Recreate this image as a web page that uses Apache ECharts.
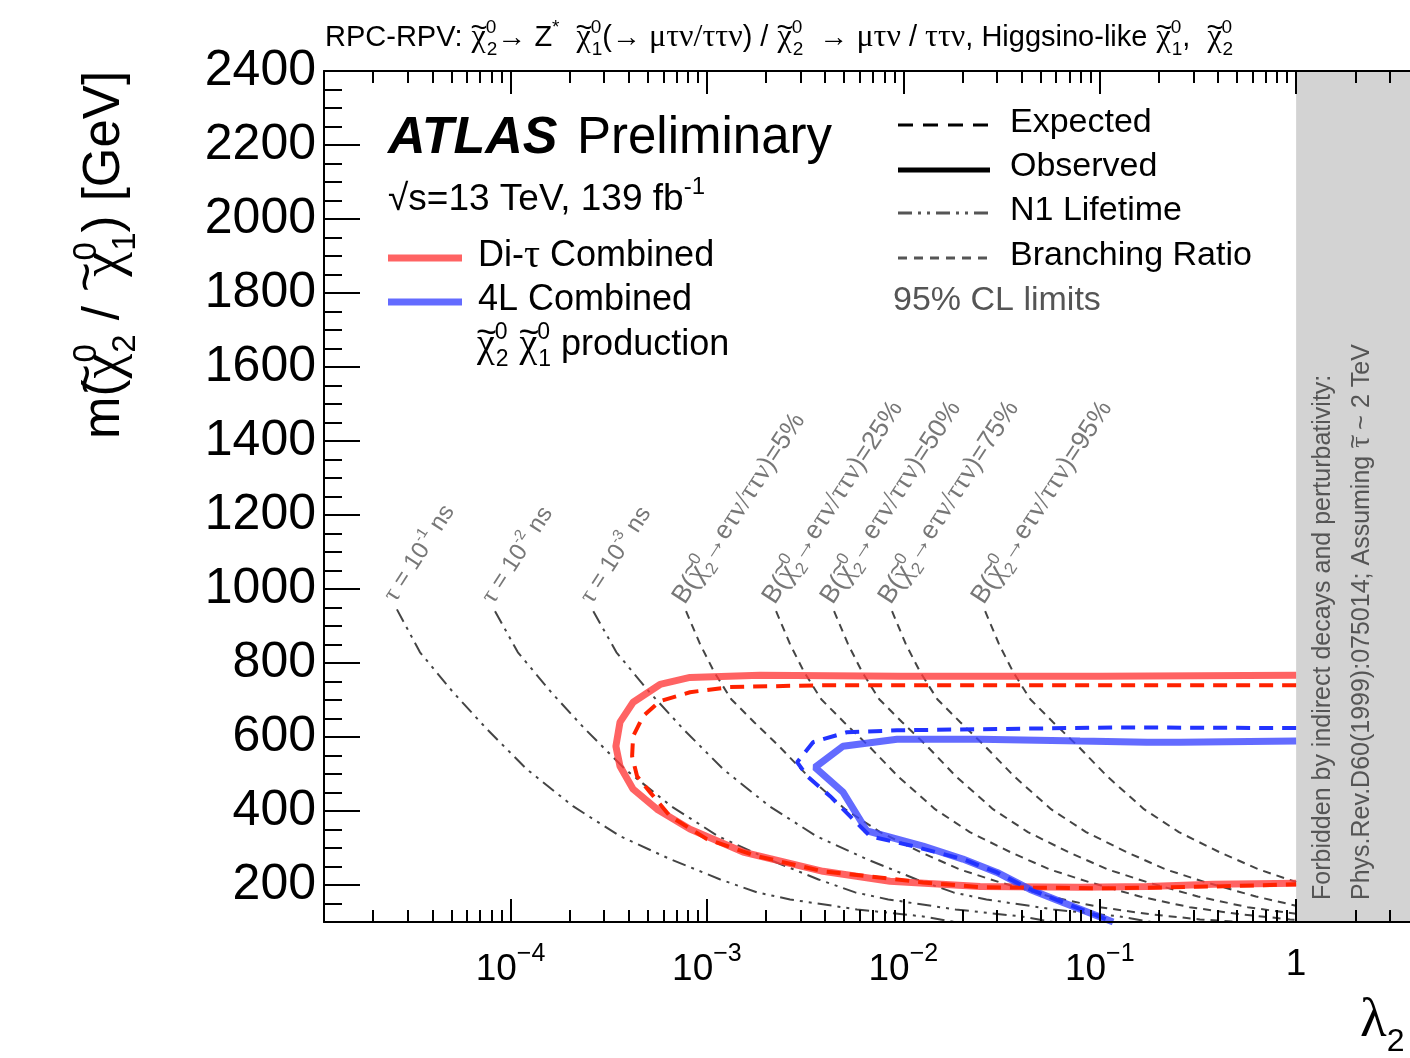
<!DOCTYPE html>
<html>
<head>
<meta charset="utf-8">
<script src="https://cdn.jsdelivr.net/npm/echarts@6/dist/echarts.min.js"></script>
<style>
  html, body { margin: 0; padding: 0; background: #ffffff; }
  #chart { width: 1410px; height: 1058px; }
</style>
</head>
<body>
<div id="chart"></div>
<script>
// ---- axis ranges and ticks ----
const LAMBDA_MIN = 1.123e-5;
const LAMBDA_MAX = 3.8;
const MASS_MIN = 100;
const MASS_MAX = 2400;
const FORBIDDEN_FROM = 1;          // lambda above which the region is excluded

const xMajorTicks = [1e-4, 1e-3, 1e-2, 1e-1, 1];
const xMinorTicks = [];
[1e-5, 1e-4, 1e-3, 1e-2, 1e-1, 1].forEach(function (d) {
  [2, 3, 4, 5, 6, 7, 8, 9].forEach(function (k) { xMinorTicks.push(k * d); });
});
const yMajorTicks = [200, 400, 600, 800, 1000, 1200, 1400, 1600, 1800, 2000, 2200, 2400];
const yMinorTicks = [150, 250, 300, 350, 450, 500, 550, 650, 700, 750, 850, 900, 950,
  1050, 1100, 1150, 1250, 1300, 1350, 1450, 1500, 1550, 1650, 1700, 1750, 1850, 1900, 1950,
  2050, 2100, 2150, 2250, 2300, 2350];

// ---- 95% CL exclusion contours: [lambda, mass in GeV] ----
const ditauObserved = [[1.0, 767], [0.100, 764], [9.62e-3, 764], [1.86e-3, 767], [8.20e-4, 761],
  [5.77e-4, 742], [4.21e-4, 694], [3.61e-4, 640], [3.44e-4, 575], [3.61e-4, 521], [4.21e-4, 459],
  [5.57e-4, 405], [8.20e-4, 351], [1.53e-3, 289], [3.90e-3, 237], [8.56e-3, 210], [2.46e-2, 196],
  [7.94e-2, 194], [0.174, 196], [0.378, 202], [1.0, 205]];
const ditauExpected = [[1.0, 740], [1.49e-2, 740], [3.90e-3, 740], [1.31e-3, 735], [8.20e-4, 721],
  [5.77e-4, 697], [4.73e-4, 656], [4.21e-4, 602], [4.16e-4, 548], [4.41e-4, 494], [5.13e-4, 451],
  [6.49e-4, 386], [1.00e-3, 324], [1.80e-3, 278], [3.90e-3, 237], [1.26e-2, 207], [2.46e-2, 194],
  [0.117, 191], [0.378, 196], [1.0, 202]];
const fourLObserved = [[1.0, 589], [0.256, 586], [0.174, 586], [7.94e-2, 589], [2.46e-2, 594],
  [9.29e-3, 594], [4.93e-3, 575], [3.55e-3, 518], [4.93e-3, 451], [6.53e-3, 346], [1.26e-2, 305],
  [2.01e-2, 270], [3.00e-2, 234], [4.42e-2, 188], [6.50e-2, 153], [0.117, 100]];
const fourLExpected = [[1.0, 624], [0.127, 626], [2.46e-2, 621], [9.29e-3, 618], [5.17e-3, 613],
  [3.47e-3, 586], [2.88e-3, 532], [3.24e-3, 494], [4.24e-3, 440], [5.35e-3, 386], [6.77e-3, 332],
  [1.12e-2, 305], [2.01e-2, 270], [3.00e-2, 234], [4.42e-2, 188], [6.50e-2, 153], [0.117, 100]];

// ---- neutralino lifetime contours ----
const lifetime1e1 = [[2.64e-5, 945], [3.46e-5, 829], [5.10e-5, 721], [7.59e-5, 621], [1.21e-4, 513],
  [2.08e-4, 413], [3.61e-4, 332], [6.49e-4, 270], [1.17e-3, 215], [1.80e-3, 180], [2.65e-3, 161],
  [5.81e-3, 134], [1.26e-2, 115], [1.83e-2, 100]];
const lifetime1e2 = [[8.34e-5, 940], [1.09e-4, 829], [1.61e-4, 721], [2.40e-4, 621], [3.83e-4, 513],
  [6.58e-4, 413], [1.14e-3, 332], [2.05e-3, 270], [3.70e-3, 215], [5.69e-3, 180], [8.38e-3, 161],
  [1.84e-2, 134], [3.98e-2, 115], [5.79e-2, 100]];
const lifetime1e3 = [[2.64e-4, 940], [3.46e-4, 829], [5.10e-4, 721], [7.59e-4, 621], [1.21e-3, 513],
  [2.08e-3, 413], [3.61e-3, 332], [6.49e-3, 270], [1.17e-2, 215], [1.80e-2, 180], [2.65e-2, 161],
  [5.81e-2, 134], [0.126, 115], [0.183, 100]];

// ---- branching-ratio contours ----
const br05 = [[7.83e-4, 940], [9.23e-4, 851], [1.09e-3, 775], [1.33e-3, 702], [1.74e-3, 640],
  [2.36e-3, 572], [3.27e-3, 494], [5.05e-3, 405], [7.61e-3, 343], [1.22e-2, 289], [1.94e-2, 242],
  [3.11e-2, 207], [5.58e-2, 169], [0.100, 140], [0.180, 121], [0.324, 107], [0.518, 100]];
const br25 = [[2.25e-3, 940], [2.65e-3, 851], [3.13e-3, 775], [3.82e-3, 702], [4.99e-3, 640],
  [6.77e-3, 572], [9.38e-3, 494], [1.45e-2, 405], [2.18e-2, 343], [3.50e-2, 289], [5.57e-2, 242],
  [8.93e-2, 207], [0.160, 169], [0.287, 140], [0.517, 121], [0.93, 107], [1.0, 106]];
const br50 = [[4.44e-3, 940], [5.23e-3, 851], [6.18e-3, 775], [7.54e-3, 702], [9.87e-3, 640],
  [1.34e-2, 572], [1.85e-2, 494], [2.86e-2, 405], [4.31e-2, 343], [6.92e-2, 289], [0.110, 242],
  [0.176, 207], [0.316, 169], [0.567, 140], [1.0, 122]];
const br75 = [[8.76e-3, 940], [1.03e-2, 851], [1.22e-2, 775], [1.49e-2, 702], [1.95e-2, 640],
  [2.64e-2, 572], [3.66e-2, 494], [5.65e-2, 405], [8.52e-2, 343], [0.137, 289], [0.217, 242],
  [0.348, 207], [0.624, 169], [1.0, 144]];
const br95 = [[2.61e-2, 940], [3.07e-2, 851], [3.63e-2, 775], [4.43e-2, 702], [5.79e-2, 640],
  [7.86e-2, 572], [0.109, 494], [0.168, 405], [0.253, 343], [0.406, 289], [0.646, 242], [1.0, 208]];

// ---- fonts, colours ----
const SANS = '"Liberation Sans", Arial, Helvetica, sans-serif';
const SERIF = '"Liberation Serif", "DejaVu Serif", serif';
const RED_OBS = 'rgba(255,60,60,0.80)';
const RED_EXP = '#ff2200';
const BLUE_OBS = 'rgba(60,70,255,0.80)';
const BLUE_EXP = '#2233ff';
const GUIDE = '#444444';
const NOTE = '#555555';
const LIFETIME_DASH = [14, 6, 3, 6, 3, 6];
const BR_DASH = [8, 6];
const EXP_DASH = [14, 9];

// rich-text styles: t = text, g = greek, tl = tilde accent (drawn over the next glyph),
// up = superscript, st = superscript stacked over the following subscript, dn = subscript
function richStyles(size, color) {
  const small = Math.round(size * 0.64);
  function s(o) { o.color = color; o.fill = color; return o; }
  return {
    t: s({ fontFamily: SANS, fontSize: size }),
    g: s({ fontFamily: SERIF, fontSize: Math.round(size * 1.1) }),
    tl: s({ fontFamily: SANS, fontSize: Math.round(size * 1.0), width: 1,
      padding: [0, 0, Math.round(size * 0.62), 0] }),
    up: s({ fontFamily: SANS, fontSize: small, padding: [0, 0, Math.round(size * 0.7), 0] }),
    st: s({ fontFamily: SANS, fontSize: small, width: 1, padding: [0, 0, Math.round(size * 0.7), 0] }),
    dn: s({ fontFamily: SANS, fontSize: small, padding: [Math.round(size * 0.8), 0, 0, 0] })
  };
}
function tilde(letter) { return '{tl|~}{g|' + letter + '}'; }
function chi(sub) { return tilde('\u03c7') + '{st|0}{dn|' + sub + '}'; }

const titleText = '{t|RPC-RPV: }' + chi(2) + '{t|\u2192 Z}{up|*}{t|  }' + chi(1) +
  '{t|(\u2192 }{g|\u03bc\u03c4\u03bd/\u03c4\u03c4\u03bd}{t|) / }' + chi(2) +
  '{t|  \u2192 }{g|\u03bc\u03c4\u03bd}{t| / }{g|\u03c4\u03c4\u03bd}{t|, Higgsino-like }' +
  chi(1) + '{t|,  }' + chi(2);

function brLabel(pct) {
  return '{t|B(}' + chi(2) + '{t|\u2192e}{g|\u03c4\u03bd/\u03c4\u03c4\u03bd}{t|)=' + pct + '%}';
}
function lifetimeLabel(exp) {
  return '{g|\u03c4}{t| = 10}{up|-' + exp + '}{t| ns}';
}

const guideLabels = [
  { curve: lifetime1e1, text: lifetimeLabel(1), size: 24 },
  { curve: lifetime1e2, text: lifetimeLabel(2), size: 24 },
  { curve: lifetime1e3, text: lifetimeLabel(3), size: 24 },
  { curve: br05, text: brLabel(5), size: 26 },
  { curve: br25, text: brLabel(25), size: 26 },
  { curve: br50, text: brLabel(50), size: 26 },
  { curve: br75, text: brLabel(75), size: 26 },
  { curve: br95, text: brLabel(95), size: 26 }
];

// ---- axes ----
const frameLine = { show: true, lineStyle: { color: '#000', width: 2 } };
function xAxisDef(position, ticks, len, showLine, showLabels) {
  return {
    type: 'log', logBase: 10, gridIndex: 0, position: position,
    min: LAMBDA_MIN, max: LAMBDA_MAX, z: 10,
    axisLine: showLine ? frameLine : { show: false },
    axisTick: { show: true, inside: true, length: len, customValues: ticks,
      lineStyle: { color: '#000', width: 2 } },
    axisLabel: showLabels ? {
      show: true, customValues: xMajorTicks, margin: 20,
      formatter: function (v) {
        const k = Math.round(Math.log10(v));
        return k === 0 ? '{b|1}' : '{b|10}{e|\u2212' + (-k) + '}';
      },
      rich: {
        b: { fontFamily: SANS, fontSize: 37, color: '#000', lineHeight: 46 },
        e: { fontFamily: SANS, fontSize: 25, color: '#000', padding: [0, 0, 30, 0] }
      }
    } : { show: false },
    splitLine: { show: false }
  };
}
function yAxisDef(ticks, len, showLine, showLabels) {
  return {
    type: 'value', gridIndex: 0, position: 'left', min: MASS_MIN, max: MASS_MAX, z: 10,
    axisLine: showLine ? frameLine : { show: false },
    axisTick: { show: true, inside: true, length: len, customValues: ticks,
      lineStyle: { color: '#000', width: 2 } },
    axisLabel: showLabels ? { show: true, customValues: yMajorTicks, margin: 8,
      formatter: function (v) { return String(v); },
      fontFamily: SANS, fontSize: 50, color: '#000' } : { show: false },
    splitLine: { show: false }
  };
}

function curve(data, color, width, dash, z) {
  return {
    type: 'line', data: data, xAxisIndex: 0, yAxisIndex: 0, symbol: 'none', smooth: false,
    silent: true, z: z, lineStyle: { color: color, width: width, type: dash || 'solid', cap: 'butt' }
  };
}

const series = [
  {
    type: 'line', data: [[FORBIDDEN_FROM, MASS_MIN]], symbol: 'none', silent: true, z: 1,
    lineStyle: { opacity: 0 },
    markArea: {
      silent: true, itemStyle: { color: '#d3d3d3' },
      data: [[{ coord: [FORBIDDEN_FROM, MASS_MIN] }, { coord: [LAMBDA_MAX, MASS_MAX] }]]
    }
  },
  curve(lifetime1e1, GUIDE, 2, LIFETIME_DASH, 2),
  curve(lifetime1e2, GUIDE, 2, LIFETIME_DASH, 2),
  curve(lifetime1e3, GUIDE, 2, LIFETIME_DASH, 2),
  curve(br05, GUIDE, 2, BR_DASH, 2),
  curve(br25, GUIDE, 2, BR_DASH, 2),
  curve(br50, GUIDE, 2, BR_DASH, 2),
  curve(br75, GUIDE, 2, BR_DASH, 2),
  curve(br95, GUIDE, 2, BR_DASH, 2),
  curve(ditauObserved, RED_OBS, 7, 'solid', 3),
  curve(fourLObserved, BLUE_OBS, 7, 'solid', 3),
  curve(ditauExpected, RED_EXP, 4, EXP_DASH, 4),
  curve(fourLExpected, BLUE_EXP, 4, EXP_DASH, 4),
  {
    type: 'scatter', symbolSize: 1, silent: true, z: 5,
    itemStyle: { color: 'rgba(0,0,0,0)' },
    data: guideLabels.map(function (g) {
      return { value: g.curve[0], label: { formatter: g.text, rich: richStyles(g.size, NOTE) } };
    }),
    label: {
      show: true, position: 'right', distance: 0, align: 'left', verticalAlign: 'middle',
      rotate: 57, offset: [4, -12]
    }
  }
];

// ---- annotation text and legend ----
function txt(x, y, text, size, color, extra) {
  const el = { type: 'text', x: x, y: y, silent: true, z: 20,
    style: { text: text, rich: richStyles(size, color), fill: color,
      font: size + 'px ' + SANS, align: 'left', verticalAlign: 'middle' } };
  if (extra) { Object.keys(extra).forEach(function (k) { el[k] = extra[k]; }); }
  return el;
}
function legendLine(x1, x2, y, color, width, dash) {
  return { type: 'line', silent: true, z: 20, shape: { x1: x1, y1: y, x2: x2, y2: y },
    style: { stroke: color, lineWidth: width, lineDash: dash || null } };
}

const graphics = [
  txt(325, 38, titleText, 29, '#000'),
  (function () {
    const el = txt(105, 255, '{t|m(}' + chi(2) + '{t| /  }' + chi(1) + '{t|) [GeV]}', 51, '#000',
      { rotation: Math.PI / 2 });
    el.style.align = 'center';
    return el;
  })(),
  txt(1360, 1022, '{g|\u03bb}{dn|2}', 50, '#000'),
  { type: 'text', x: 388, y: 139, silent: true, z: 20,
    style: { text: 'ATLAS', font: 'italic bold 52px ' + SANS, fill: '#000', align: 'left', verticalAlign: 'middle' } },
  { type: 'text', x: 577, y: 139, silent: true, z: 20,
    style: { text: 'Preliminary', font: '51px ' + SANS, fill: '#000', align: 'left', verticalAlign: 'middle' } },
  txt(388, 200, '{t|\u221as=13 TeV, 139 fb}{up|-1}', 37, '#000'),
  legendLine(388, 462, 258, RED_OBS, 7),
  txt(478, 256, '{t|Di-}{g|\u03c4}{t| Combined}', 36, '#000'),
  legendLine(388, 462, 302, BLUE_OBS, 7),
  txt(478, 300, '{t|4L Combined}', 36, '#000'),
  txt(476, 345, chi(2) + '{t| }' + chi(1) + '{t| production}', 36, '#000'),

  legendLine(898, 990, 125, '#000', 3, [15, 10]),
  txt(1010, 123, '{t|Expected}', 34, '#000'),
  legendLine(898, 990, 170, '#000', 5),
  txt(1010, 167, '{t|Observed}', 34, '#000'),
  legendLine(898, 990, 213, NOTE, 3, [14, 6, 3, 6, 3, 6]),
  txt(1010, 211, '{t|N1 Lifetime}', 34, '#000'),
  legendLine(898, 990, 258, NOTE, 3, [9, 7]),
  txt(1010, 256, '{t|Branching Ratio}', 34, '#000'),
  txt(893, 301, '{t|95% CL limits}', 34, NOTE),

  txt(1323, 900, '{t|Forbidden by indirect decays and perturbativity:}', 25, NOTE,
    { rotation: Math.PI / 2 }),
  txt(1362, 900, '{t|Phys.Rev.D60(1999):075014; Assuming }' + tilde('\u03c4') + '{t| ~ 2 TeV}', 25, NOTE,
    { rotation: Math.PI / 2 })
];

const chart = echarts.init(document.getElementById('chart'), null, { renderer: 'canvas' });
chart.setOption({
  animation: false,
  backgroundColor: '#ffffff',
  grid: { left: 324, top: 71, right: 0, bottom: 136, show: false },
  xAxis: [
    xAxisDef('bottom', xMajorTicks, 23, true, true),
    xAxisDef('bottom', xMinorTicks, 12, false, false),
    xAxisDef('top', xMajorTicks, 23, true, false),
    xAxisDef('top', xMinorTicks, 12, false, false)
  ],
  yAxis: [
    yAxisDef(yMajorTicks, 36, true, true),
    yAxisDef(yMinorTicks, 18, false, false)
  ],
  series: series,
  graphic: graphics
});
</script>
</body>
</html>
